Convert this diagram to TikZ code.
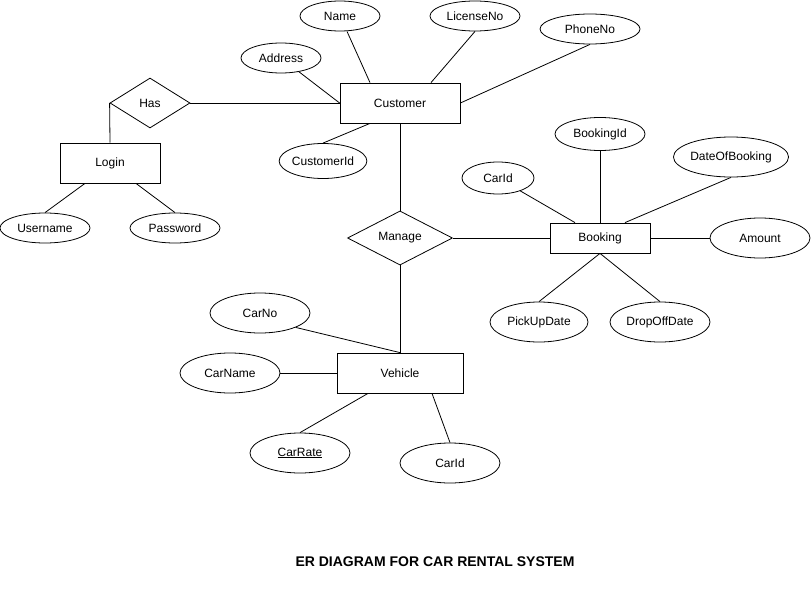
\documentclass[tikz,border=0pt]{standalone}
\usepackage{fontspec}
\setmainfont{Liberation Sans}
\usetikzlibrary{shapes.geometric}

\begin{document}
\begin{tikzpicture}[x=1pt, y=-1pt, line width=.8pt, font=\fontsize{12}{14}\selectfont,
        entity/.style={draw, rectangle, minimum width=#1, minimum height=40, inner sep=0},
        attr/.style={draw, ellipse, minimum width=#1, minimum height=30, inner sep=0},
        rel/.style={draw, diamond, minimum width=#1, minimum height=50, inner sep=0}]
        \useasboundingbox (0,0) rectangle (811,594);

        \node[entity=120] (cust) at (400,103) {Customer};
        \node[entity=100] (login) at (110,163) {Login};
        \node[entity=100, minimum height=30] (book) at (600,238) {Booking};
        \node[entity=126] (veh) at (400,373) {Vehicle};
        \node[rel=80] (has) at (150,103) {Has};
        \node[rel=105] (manage) at (400,238) {Manage};

        \node[attr=80] (name) at (340,16) {Name};
        \node[attr=90] (lic) at (475,16) {LicenseNo};
        \node[attr=100] (phone) at (590,29) {PhoneNo};
        \node[attr=80] (addr) at (281,58) {Address};
        \node[attr=85, minimum height=35] (custid) at (323,161) {CustomerId};
        \node[attr=90] (user) at (45,228) {Username};
        \node[attr=90] (pass) at (175,228) {Password};

        \node[attr=90, minimum height=33] (bookid) at (600,134) {BookingId};
        \node[attr=72, minimum height=32] (bcarid) at (498,178) {CarId};
        \node[attr=100, minimum height=40] (date) at (731,157) {DateOfBooking};
        \node[attr=100, minimum height=40] (amount) at (760,238) {Amount};
        \node[attr=98, minimum height=40] (pickup) at (539,322) {PickUpDate};
        \node[attr=100, minimum height=40] (dropoff) at (660,322) {DropOffDate};

        \node[attr=100, minimum height=40] (carno) at (260,313) {CarNo};
        \node[attr=100, minimum height=40] (carname) at (230,373) {CarName};
        \node[attr=100, minimum height=40] (carrate) at (300,453) {\underline{CarRate}};
        \node[attr=100, minimum height=40] (vcarid) at (450,463) {CarId};

        \draw (has.east) -- (cust.west);
        \draw (has.west) -- (login.north);
        \draw (cust.south) -- (manage.north);
        \draw (manage.east) -- (book.west);
        \draw (manage.south) -- (veh.north);

        \draw ([xshift=7pt]name.south) -- ([xshift=-30pt]cust.north);
        \draw (lic.south) -- ([xshift=31pt]cust.north);
        \draw (phone.south) -- (cust.east);
        \draw (addr) -- (cust.west);
        \draw (custid.north) -- ([xshift=-30pt]cust.south);
        \draw (user.north) -- ([xshift=-25pt]login.south);
        \draw (pass.north) -- ([xshift=26pt]login.south);

        \draw (bookid.south) -- (book.north);
        \draw (bcarid) -- ([xshift=-25pt]book.north);
        \draw (date.south) -- ([xshift=25pt]book.north);
        \draw (amount) -- (book.east);
        \foreach \a in {pickup, dropoff}
            \draw (\a.north) -- (book.south);

        \draw (carno.-22) -- (veh.north);
        \draw (carname) -- (veh.west);
        \draw (carrate.north) -- ([xshift=-32pt]veh.south);
        \draw (vcarid.north) -- ([xshift=32pt]veh.south);

        \node[font=\bfseries\fontsize{14}{16}\selectfont] (title) at (435,562) {ER DIAGRAM FOR CAR RENTAL SYSTEM};
    \end{tikzpicture}
\end{document}
